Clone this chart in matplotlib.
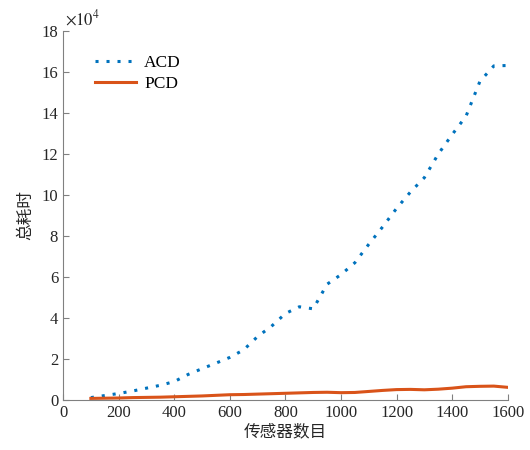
import numpy as np
import matplotlib
matplotlib.use('Agg')
import matplotlib.pyplot as plt

plt.rcParams['font.family'] = ['Liberation Serif', 'Noto Sans CJK SC']
plt.rcParams['mathtext.fontset'] = 'stix'

# 传感器数目
sensors = [100, 150, 200, 250, 300, 350, 400, 450, 500, 550, 600, 650, 700, 750, 800, 850,
           900, 950, 1000, 1050, 1100, 1150, 1200, 1250, 1300, 1350, 1400, 1450, 1500, 1550, 1600]
# 总耗时 (x1e4)
acd = [0.12, 0.22, 0.32, 0.44, 0.58, 0.72, 0.90, 1.25, 1.53, 1.80, 2.08, 2.45, 3.10, 3.60, 4.22, 4.55,
       4.45, 5.65, 6.12, 6.70, 7.60, 8.45, 9.35, 10.15, 10.85, 12.00, 12.95, 13.85, 15.55, 16.30, 16.32]
pcd = [0.08, 0.09, 0.10, 0.12, 0.13, 0.14, 0.16, 0.18, 0.20, 0.23, 0.26, 0.27, 0.29, 0.31, 0.33, 0.35,
       0.37, 0.38, 0.36, 0.37, 0.42, 0.47, 0.51, 0.52, 0.50, 0.53, 0.58, 0.65, 0.67, 0.68, 0.62]

fig = plt.figure(figsize=(5.3, 4.5), dpi=100)
ax = fig.add_axes([0.119, 0.111, 0.839, 0.82])

ax.plot(sensors, acd, color='#0072BD', linewidth=2.2, linestyle=(0, (1, 2.6)), label='ACD')
ax.plot(sensors, pcd, color='#D95319', linewidth=2.2, label='PCD')

ax.set_xlim(0, 1600)
ax.set_ylim(0, 18)
ax.set_xticks(np.arange(0, 1601, 200))
ax.set_yticks(np.arange(0, 19, 2))

# MATLAB 风格的指数标记
ax.text(0.005, 1.005, r'$\times10^{4}$', transform=ax.transAxes, fontsize=12,
        color='#262626', ha='left', va='bottom')

for side in ['top', 'right']:
    ax.spines[side].set_visible(False)
for side in ['left', 'bottom']:
    ax.spines[side].set_color('#808080')
    ax.spines[side].set_linewidth(0.8)
ax.tick_params(direction='in', length=4, color='#808080', labelsize=12, labelcolor='#262626')

ax.set_xlabel('传感器数目', family=['Noto Sans CJK SC'], fontsize=12, color='#262626', labelpad=2)
ax.set_ylabel('总耗时', family=['Noto Sans CJK SC'], fontsize=12, color='#262626', labelpad=5)

ax.legend(loc='upper left', frameon=False, fontsize=12.5, handlelength=2.4, handletextpad=0.45,
          labelspacing=0.25, bbox_to_anchor=(0.036, 0.977))

fig.savefig('out.png', dpi=100)
